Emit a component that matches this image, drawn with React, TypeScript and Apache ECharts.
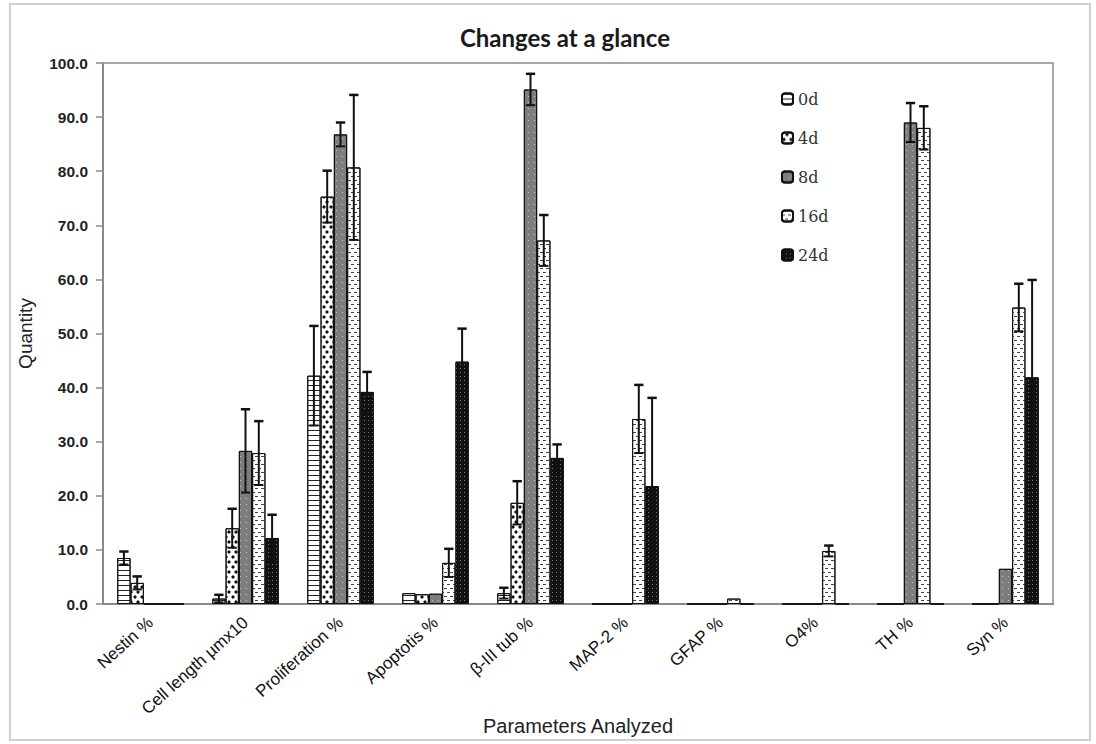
import React, { useEffect, useRef } from "react";
import * as echarts from "echarts";

const categories = [
  "Nestin %",
  "Cell length µmx10",
  "Proliferation %",
  "Apoptotis %",
  "β-III tub %",
  "MAP-2 %",
  "GFAP %",
  "O4%",
  "TH %",
  "Syn %",
];
const seriesNames = ["0d", "4d", "8d", "16d", "24d"];

const d0 = [8.5, 1.0, 42.2, 2.0, 2.0, 0, 0, 0, 0, 0];
const d4 = [3.9, 14.0, 75.3, 1.8, 18.7, 0, 0, 0, 0, 0];
const d8 = [0, 28.3, 86.8, 1.9, 95.1, 0, 0, 0, 89.0, 6.5];
const d16 = [0, 27.9, 80.7, 7.6, 67.2, 34.2, 1.0, 9.8, 88.0, 54.8];
const d24 = [0, 12.2, 39.2, 44.8, 27.0, 21.8, 0, 0, 0, 41.9];

const e0 = [1.2, 0.7, 9.2, 0, 1.0, 0, 0, 0, 0, 0];
const e4 = [1.2, 3.6, 4.8, 0, 4.0, 0, 0, 0, 0, 0];
const e8 = [0, 7.7, 2.2, 0, 2.9, 0, 0, 0, 3.6, 0];
const e16 = [0, 5.9, 13.4, 2.6, 4.7, 6.3, 0, 1.0, 4.0, 4.4];
const e24 = [0, 4.3, 3.7, 6.1, 2.5, 16.3, 0, 0, 0, 18.0];

const yTicks = [0, 10, 20, 30, 40, 50, 60, 70, 80, 90, 100];

const values = [d0, d4, d8, d16, d24];
const errors = [e0, e4, e8, e16, e24];

const styles: any[] = [
  {
    color: "#ffffff",
    decal: {
      symbol: "rect",
      symbolSize: 1,
      color: "#222",
      dashArrayX: [[1, 0]],
      dashArrayY: [1, 4],
      rotation: 0,
    },
  },
  {
    color: "#ffffff",
    decal: {
      symbol: "diamond",
      symbolSize: 1,
      color: "#111",
      dashArrayX: [[4, 3], [0, 3, 4, 0]],
      dashArrayY: [4, 1],
      rotation: 0,
    },
  },
  {
    color: "#7d7d7d",
    decal: {
      symbol: "rect",
      symbolSize: 1,
      color: "rgba(255,255,255,0.55)",
      dashArrayX: [[1, 5]],
      dashArrayY: [1, 5],
      rotation: 0,
    },
  },
  {
    color: "#ffffff",
    decal: {
      symbol: "rect",
      symbolSize: 1,
      color: "#444",
      dashArrayX: [[3, 3], [0, 3, 3, 0]],
      dashArrayY: [1, 3],
      rotation: 0,
    },
  },
  {
    color: "#111111",
    decal: {
      symbol: "rect",
      symbolSize: 1,
      color: "rgba(255,255,255,0.45)",
      dashArrayX: [[1, 3]],
      dashArrayY: [1, 3],
      rotation: 0,
    },
  },
];

export default function App() {
  const ref = useRef<HTMLDivElement>(null);

  useEffect(() => {
    if (!ref.current) return;
    const chart = echarts.init(ref.current, null, { renderer: "svg" });

    const barSeries = seriesNames.map((name, i) => ({
      name,
      type: "bar",
      data: values[i],
      barGap: "0%",
      barCategoryGap: "30%",
      itemStyle: {
        ...styles[i],
        borderColor: "#111",
        borderWidth: 1,
      },
      emphasis: { disabled: true },
    }));

    const errSeries = seriesNames.map((name, i) => ({
      name: name + "-err",
      type: "custom",
      z: 10,
      silent: true,
      data: values[i].map((v, k) => [k, v, errors[i][k]]),
      renderItem: (params: any, api: any) => {
        const k = api.value(0);
        const v = api.value(1);
        const e = api.value(2);
        if (!e) return { type: "group", children: [] };
        const band = api.size([1, 0])[0];
        const bw = (band * 0.7) / 5;
        const c = api.coord([k, v]);
        const x = c[0] + (i - 2) * bw;
        const top = api.coord([k, v + e])[1];
        const bot = api.coord([k, Math.max(0, v - e)])[1];
        const cw = bw * 0.35;
        const st = { stroke: "#111", lineWidth: 2 };
        return {
          type: "group",
          children: [
            { type: "line", shape: { x1: x, y1: top, x2: x, y2: bot }, style: st },
            { type: "line", shape: { x1: x - cw, y1: top, x2: x + cw, y2: top }, style: { stroke: "#111", lineWidth: 2.5 } },
            { type: "line", shape: { x1: x - cw, y1: bot, x2: x + cw, y2: bot }, style: st },
          ],
        };
      },
    }));

    chart.setOption({
      animation: false,
      backgroundColor: "#ffffff",
      title: {
        text: "Changes at a glance",
        left: 560,
        textAlign: "center",
        top: 20,
        textStyle: {
          fontFamily: "Lato",
          fontWeight: "bold",
          fontSize: 24,
          color: "#1a1a1a",
        },
      },
      legend: {
        data: seriesNames,
        orient: "vertical",
        left: 776,
        top: 86,
        itemGap: 23,
        itemWidth: 11,
        itemHeight: 11,
        textStyle: {
          fontFamily: "DejaVu Serif",
          fontSize: 16,
          color: "#333",
        },
      },
      grid: {
        left: 103,
        top: 63,
        right: 43,
        bottom: 140,
        containLabel: false,
        outerBoundsMode: "none",
        show: true,
        borderColor: "#8a8a8a",
        borderWidth: 1.5,
        backgroundColor: "transparent",
      },
      xAxis: {
        type: "category",
        data: categories,
        axisLine: { lineStyle: { color: "#8a8a8a", width: 2 } },
        axisTick: { show: false },
        axisLabel: {
          rotate: 42,
          interval: 0,
          fontFamily: "Liberation Sans",
          fontSize: 17,
          color: "#111",
          margin: 16,
        },
        name: "Parameters Analyzed",
        nameLocation: "middle",
        nameGap: 112,
        nameMoveOverlap: false,
        nameTextStyle: {
          fontFamily: "Liberation Sans",
          fontSize: 20,
          color: "#222",
        },
      },
      yAxis: {
        type: "value",
        min: yTicks[0],
        max: yTicks[yTicks.length - 1],
        interval: 10,
        splitLine: { show: false },
        axisLine: { show: true, lineStyle: { color: "#8a8a8a", width: 2 } },
        axisTick: { show: true, inside: false, length: 7, lineStyle: { color: "#8a8a8a", width: 1.5 } },
        axisLabel: {
          formatter: (v: number) => v.toFixed(1),
          fontFamily: "Liberation Sans",
          fontWeight: "bold",
          fontSize: 15.5,
          color: "#222",
          margin: 15,
        },
        name: "Quantity",
        nameLocation: "middle",
        nameGap: 68,
        nameMoveOverlap: false,
        nameTextStyle: {
          fontFamily: "Liberation Sans",
          fontSize: 19,
          color: "#222",
        },
      },
      graphic: [
        {
          type: "rect",
          shape: { x: 10, y: 4, width: 1080, height: 736 },
          style: { fill: "none", stroke: "#d0d0d0", lineWidth: 2 },
          silent: true,
        },
      ],
      series: [...barSeries, ...errSeries],
    });

    return () => chart.dispose();
  }, []);

  return (
    <div
      ref={ref}
      style={{ position: "fixed", left: 0, top: 0, width: 1096, height: 744 }}
    />
  );
}
